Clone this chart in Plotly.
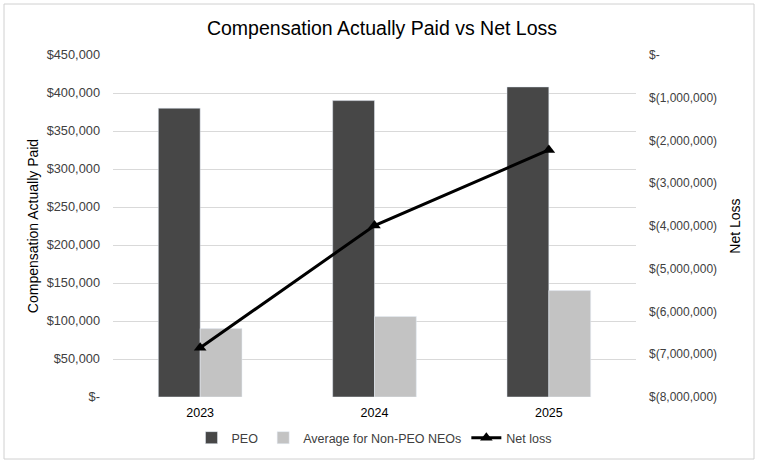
import plotly.graph_objects as go

years = ['2023', '2024', '2025']
peo_cap = [380000, 390000, 408000]
non_peo_cap = [90000, 106000, 140000]
net_loss = [-6850000, -3990000, -2220000]

left_tickvals = [0, 50000, 100000, 150000, 200000, 250000, 300000, 350000, 400000, 450000]
left_ticktext = ['$-', '$50,000', '$100,000', '$150,000', '$200,000', '$250,000',
                 '$300,000', '$350,000', '$400,000', '$450,000']
right_tickvals = [0, -1000000, -2000000, -3000000, -4000000, -5000000, -6000000, -7000000, -8000000]
right_ticktext = ['$-', '$(1,000,000)', '$(2,000,000)', '$(3,000,000)', '$(4,000,000)',
                  '$(5,000,000)', '$(6,000,000)', '$(7,000,000)', '$(8,000,000)']

fig = go.Figure()

fig.add_trace(go.Bar(x=years, y=peo_cap, name='PEO', marker_color='#474747'))
fig.add_trace(go.Bar(x=years, y=non_peo_cap, name='Average for Non-PEO NEOs', marker_color='#c3c3c3'))
fig.add_trace(go.Scatter(
    x=years, y=net_loss, name='Net loss', yaxis='y2',
    mode='lines+markers',
    line=dict(color='black', width=3),
    marker=dict(symbol='triangle-up', size=11, color='black'),
))

fig.update_layout(
    width=764, height=462,
    paper_bgcolor='white', plot_bgcolor='white',
    font=dict(family='Liberation Sans, Arial, sans-serif', size=12.5, color='#404040'),
    title=dict(text='Compensation Actually Paid vs Net Loss', x=0.5, xanchor='center',
               y=1 - 28 / 462, yanchor='middle', font=dict(size=19.5, color='black')),
    margin=dict(l=113, r=128, t=55, b=65, autoexpand=False),
    barmode='group', bargap=0.52, bargroupgap=0,
    xaxis=dict(showgrid=False, showline=False, ticks='', automargin=False,
               tickfont=dict(size=12.5, color='black'), ticklabelstandoff=6),
    yaxis=dict(range=[0, 450000], tickvals=left_tickvals, ticktext=left_ticktext,
               showgrid=True, gridcolor='#d9d9d9', zeroline=False, automargin=False,
               tickfont=dict(size=12.8, color='#404040'), ticklabelstandoff=12,
               title=dict(text='Compensation Actually Paid', font=dict(size=14, color='black'), standoff=4)),
    yaxis2=dict(range=[-8000000, 0], tickvals=right_tickvals, ticktext=right_ticktext,
                overlaying='y', side='right', showgrid=False, zeroline=False, automargin=False,
                tickfont=dict(size=12, color='#404040'), ticklabelstandoff=12,
                title=dict(text='Net Loss', font=dict(size=14, color='black'), standoff=14)),
    legend=dict(orientation='h', x=0.5, xanchor='center', y=-41 / 342, yanchor='middle',
                font=dict(size=12.5, color='#404040')),
    shapes=[dict(type='rect', xref='paper', yref='paper',
                 x0=(4 - 113) / 523, x1=(754 - 113) / 523,
                 y0=(397 - 459) / 342, y1=(397 - 4) / 342,
                 line=dict(color='#d0d0d0', width=1))],
)

fig.write_html('out.html', config={'displayModeBar': False},
               post_script="document.body.style.margin='0';")
